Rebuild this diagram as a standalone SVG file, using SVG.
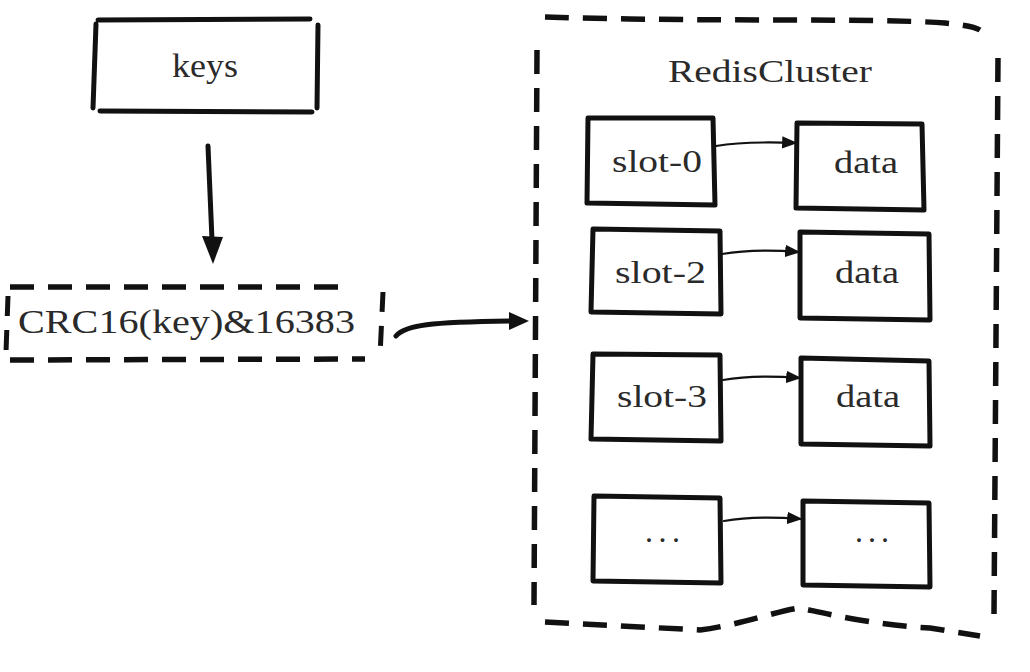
<svg xmlns="http://www.w3.org/2000/svg" width="1030" height="672" viewBox="0 0 1030 672">
<defs>
<style>
.box{fill:none;stroke:#111;stroke-width:5;stroke-linejoin:round;stroke-linecap:round}
.dash{fill:none;stroke:#111;stroke-width:5.5;stroke-dasharray:24 14;stroke-linecap:butt}
.conn{fill:none;stroke:#111;stroke-linecap:round}
.head{fill:#111}
text{font-family:"Liberation Serif","Times New Roman","DejaVu Serif",serif;fill:#2a2a2a}
</style>
<marker id="small" viewBox="0 0 10 10" refX="9" refY="5" markerWidth="7" markerHeight="7" orient="auto" markerUnits="strokeWidth">
<path d="M0,1 L10,5 L0,9 Z" fill="#111"/>
</marker>
</defs>
<rect width="1030" height="672" fill="#fff"/>

<g id="connectors">
<path class="conn" d="M208,146 L212,240" stroke-width="5"/>
<polygon class="head" points="202,236 223,237 213,264"/>
<path class="conn" d="M396,336 C405,325 430,322 512,321" stroke-width="5"/>
<polygon class="head" points="509,312 529,321 509,330"/>
<path class="conn" d="M716,146 C740,142 770,142 796,143" stroke-width="2.2" marker-end="url(#small)"/>
<path class="conn" d="M722,254 C745,250 775,250 799,252" stroke-width="2.2" marker-end="url(#small)"/>
<path class="conn" d="M723,380 C745,376 775,376 800,378" stroke-width="2.2" marker-end="url(#small)"/>
<path class="conn" d="M724,521 C746,517 776,517 801,519" stroke-width="2.2" marker-end="url(#small)"/>
</g>

<g id="keys">
<path class="box" d="M98,20 L310,19 M318,25 L317,108 M312,112 L100,111 M93,108 L96,24"/>
<text x="172" y="77" font-size="34" textLength="66" lengthAdjust="spacingAndGlyphs">keys</text>
</g>

<g id="crc">
<path class="dash" d="M10,287 L350,287"/>
<path class="dash" d="M10,360 L365,359"/>
<path d="M8,296 L6,352 M383,292 L380,356" fill="none" stroke="#111" stroke-width="5" stroke-dasharray="20 14"/>
<text x="18" y="333" font-size="34" textLength="337" lengthAdjust="spacingAndGlyphs">CRC16(key)&amp;16383</text>
</g>

<g id="cluster">
<path class="dash" d="M545,17 C700,22 880,18 945,23 C965,25 975,27 980,30"/>
<path class="dash" d="M537,50 L534,605"/>
<path class="dash" d="M998,58 L994,615"/>
<path class="dash" d="M545,622 L700,630 C740,625 780,610 800,608 C820,612 870,625 930,628 L980,636"/>
<text x="668" y="82" font-size="32" textLength="204" lengthAdjust="spacingAndGlyphs">RedisCluster</text>
</g>

<g id="slot0">
<path class="box" d="M588,118 L713,118 L715,205 L587,203 Z"/>
<text x="612" y="172" font-size="32" textLength="90" lengthAdjust="spacingAndGlyphs">slot-0</text>
</g>
<g id="data0">
<path class="box" d="M797,123 L922,124 L924,210 L796,208 Z"/>
<text x="834" y="173" font-size="32" textLength="64" lengthAdjust="spacingAndGlyphs">data</text>
</g>

<g id="slot2">
<path class="box" d="M593,229 L720,231 L721,314 L591,312 Z"/>
<text x="615" y="283" font-size="32" textLength="91" lengthAdjust="spacingAndGlyphs">slot-2</text>
</g>
<g id="data2">
<path class="box" d="M800,232 L929,234 L930,320 L800,318 Z"/>
<text x="835" y="283" font-size="32" textLength="64" lengthAdjust="spacingAndGlyphs">data</text>
</g>

<g id="slot3">
<path class="box" d="M593,354 L720,355 L721,441 L591,439 Z"/>
<text x="617" y="407" font-size="32" textLength="90" lengthAdjust="spacingAndGlyphs">slot-3</text>
</g>
<g id="data3">
<path class="box" d="M801,358 L929,361 L930,446 L801,444 Z"/>
<text x="836" y="407" font-size="32" textLength="64" lengthAdjust="spacingAndGlyphs">data</text>
</g>

<g id="slot4">
<path class="box" d="M594,496 L720,498 L721,583 L593,581 Z"/>
<text x="645" y="542" font-size="32" textLength="35" lengthAdjust="spacing">...</text>
</g>
<g id="data4">
<path class="box" d="M803,501 L929,503 L930,587 L803,585 Z"/>
<text x="855" y="542" font-size="32" textLength="34" lengthAdjust="spacing">...</text>
</g>
</svg>
